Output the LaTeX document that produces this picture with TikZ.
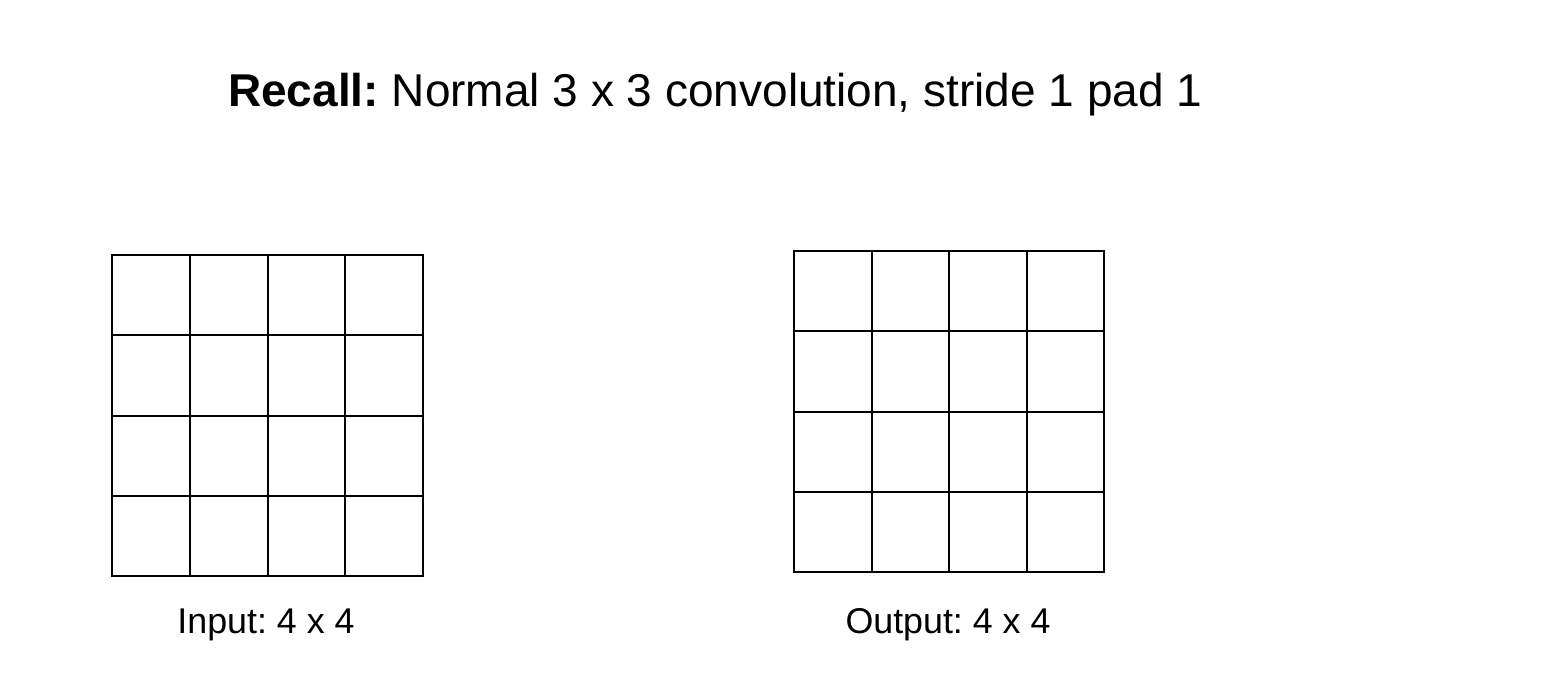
\documentclass[tikz,border=0pt]{standalone}
\usepackage{fontspec}
\setmainfont{Liberation Sans}
\frenchspacing
\begin{document}
\begin{tikzpicture}[x=1pt,y=-1pt,
  gridline/.style={line width=2pt,black,line cap=rect},
  titletext/.style={anchor=base west,inner sep=0pt,font=\fontsize{46}{56}\selectfont},
  labeltext/.style={anchor=base,inner sep=0pt,font=\fontsize{35.8}{42}\selectfont}]
\useasboundingbox[fill=white] (0,0) rectangle (1548,696);
% title
\node[titletext] (title) at (228,106) {\textbf{Recall:} Normal 3 x 3 convolution, stride 1 pad 1};
% input grid
\begin{scope}[shift={(112,255)}]
  \foreach \i in {0,...,4} {
    \draw[gridline] (\i*77.75,0) -- (\i*77.75,321);
    \draw[gridline] (0,\i*80.25) -- (311,\i*80.25);
  }
  \coordinate (ingrid) at (155.5,321);
\end{scope}
% output grid
\begin{scope}[shift={(794,251)}]
  \foreach \i in {0,...,4} {
    \draw[gridline] (\i*77.5,0) -- (\i*77.5,321);
    \draw[gridline] (0,\i*80.25) -- (310,\i*80.25);
  }
  \coordinate (outgrid) at (155,321);
\end{scope}
\node[labeltext] (inlabel) at (266,633) {Input: 4 x 4};
\node[labeltext] (outlabel) at (948,633) {Output: 4 x 4};
\end{tikzpicture}
\end{document}
